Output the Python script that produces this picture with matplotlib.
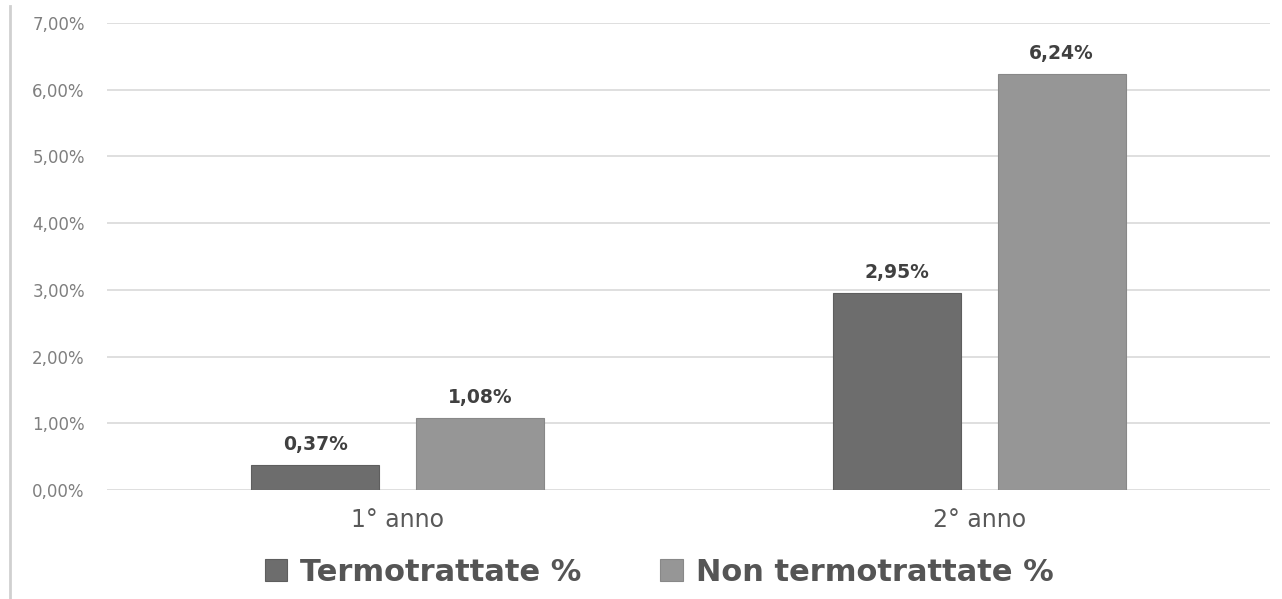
import matplotlib
matplotlib.use("Agg")
import matplotlib.pyplot as plt
from matplotlib.lines import Line2D
import numpy as np

categories = ["1° anno", "2° anno"]
series_names = ["Termotrattate %", "Non termotrattate %"]
termotrattate = [0.37, 2.95]
non_termotrattate = [1.08, 6.24]
yticks = [0, 1, 2, 3, 4, 5, 6, 7]

plt.rcParams["font.family"] = ["DejaVu Sans"]

fig = plt.figure(figsize=(12.82, 5.99), dpi=100)
ax = fig.add_axes([0.0835, 0.182, 0.907, 0.7796])

x = np.arange(len(categories))
w = 0.22
off = 0.142
dark = "#6d6d6d"
light = "#969696"
b1 = ax.bar(x - off, termotrattate, w, color=dark, edgecolor="#5e5e5e", linewidth=0.8,
            label=series_names[0], zorder=3)
b2 = ax.bar(x + off, non_termotrattate, w, color=light, edgecolor="#888888", linewidth=0.8,
            label=series_names[1], zorder=3)

for bars, vals in [(b1, termotrattate), (b2, non_termotrattate)]:
    for rect, v in zip(bars, vals):
        ax.annotate(("%.2f%%" % v).replace(".", ","),
                    (rect.get_x() + rect.get_width() / 2, v),
                    xytext=(0, 8), textcoords="offset points",
                    ha="center", va="bottom", fontsize=13.5, fontweight="bold",
                    color="#404040")

ax.set_xlim(-0.5, 1.5)
ax.set_ylim(0, 7)
ax.set_yticks(yticks)
ax.set_yticklabels([("%.2f%%" % t).replace(".", ",") for t in yticks],
                   color="#7f7f7f", fontsize=12)
ax.set_xticks(x)
ax.set_xticklabels(categories, fontsize=17, color="#595959")
ax.tick_params(axis="both", length=0)
ax.tick_params(axis="y", pad=16)
ax.tick_params(axis="x", pad=13)
ax.grid(axis="y", color="#d9d9d9", linewidth=1.2, zorder=0)
for s in ax.spines.values():
    s.set_visible(False)

fig.legend(handles=[b1, b2], labels=series_names, loc="center",
           bbox_to_anchor=(0.514, 0.045), ncol=2, frameon=False,
           prop={"size": 22, "weight": "bold"}, labelcolor="#555555",
           handlelength=0.75, handleheight=0.75, handletextpad=0.4,
           columnspacing=2.6)

# left border line of the original picture
fig.add_artist(Line2D([0.008, 0.008], [0.0, 0.99], transform=fig.transFigure,
                      color="#d0d0d0", linewidth=2))

fig.savefig("out.png", dpi=100)
